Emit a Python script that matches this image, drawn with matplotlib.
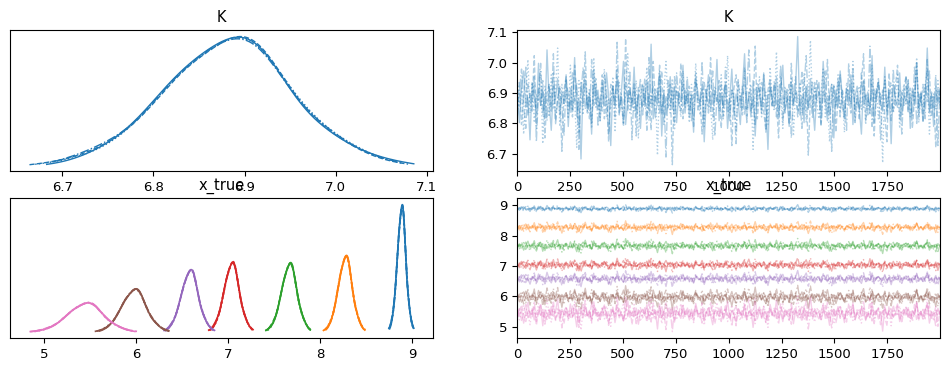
import numpy as np
import matplotlib
matplotlib.use("Agg")
import matplotlib.pyplot as plt

chain_a = [0.3, -1.2, 0.8, 1.5, -0.4, 0.1, -2.1, 0.9, 0.2, -0.7, 1.9, -0.3, 0.5, -1.0, 2.6, -0.1, -1.6, 0.7, 0.0, 1.1,
           -0.8, 0.4, -0.2, 1.3, -1.4, 0.6, -0.5, 2.2, -0.9, 0.1, -3.1, 0.8, 1.0, -0.6, 0.3, -1.8, 1.6, -0.2, 0.5, -1.1,
           0.9, -0.3, 1.4, 0.2, -2.4, 0.7, -0.1, 1.2, -0.7, 0.4, 2.0, -1.3, 0.0, 0.6, -0.4, 1.7, -0.9, 0.3, -1.5, 0.8,
           -0.2, 1.0, -0.6, 2.9, -1.0, 0.2, -0.3, 1.5, -1.9, 0.5, -0.8, 0.1, 1.2, -0.5, 0.7, -1.2, 0.4, -0.1, 1.8, -0.7,
           0.6, -0.9, 0.2, -1.7, 1.1, 0.4, -0.3, 0.8, -2.2, 0.1, 1.3, -0.6, 0.5, -0.1, 2.1, -1.1, 0.3, -0.4, 0.9, -1.5,
           0.0, 1.6, -0.8, 0.3, -0.2, -1.3, 0.7, 2.4, -0.5, 0.2, -0.9, 1.0, -1.9, 0.4, 0.6, -0.7, 1.4, -0.1, -2.6, 0.8,
           0.1, -0.4, 1.2, -1.0, 0.5, 1.8, -0.6, 0.0, -1.4, 0.9, -0.3, 0.7, 3.3, -0.8, 0.2, -1.2, 0.6, -0.5, 1.1, -0.2,
           -1.6, 0.4, 0.9, -0.7, 2.0, -0.1, -1.1, 0.3, 0.8, -2.0, 0.5, -0.4, 1.5, 0.1, -0.9, 0.6, -0.3, 1.3, -1.3, 0.2,
           0.7, -0.5, -1.8, 1.0, 0.0, 0.4, -0.7, 2.3, -1.2, 0.3, 0.9, -0.2, -0.6, 1.7, -1.0, 0.5, -2.3, 0.8, 0.1, -0.4,
           1.4, -0.8, 0.2, -0.1, 1.0, -1.5, 0.6, -0.3, 1.9, -0.9, 0.4, -1.1, 0.0, 2.7, -0.6, 0.3, -1.4, 0.7, -0.2, 0.5]
chain_b = [-0.5, 0.9, -1.3, 0.2, 1.7, -0.8, 0.4, -0.1, 2.3, -1.5, 0.6, -0.3, 1.0, -2.0, 0.3, 0.8, -0.6, 1.4, -1.1, 0.1,
           0.7, -2.7, 0.5, 1.2, -0.4, 0.0, -0.9, 1.8, 0.3, -1.7, 0.9, -0.2, 2.5, -0.7, 0.4, -1.2, 0.6, 1.1, -0.5, -0.1,
           1.3, -1.0, 0.2, -2.2, 0.8, 0.5, -0.3, 1.6, -0.8, 0.1, -1.4, 3.2, -0.6, 0.4, -0.2, 0.9, -1.9, 0.7, 0.0, -0.4,
           1.1, -0.9, 0.3, -1.6, 2.0, -0.1, 0.6, -0.7, 1.5, -1.3, 0.2, -0.5, 0.8, -3.4, 1.2, 0.4, -0.3, 1.9, -1.0, 0.5,
           -0.2, 0.7, -1.1, 0.3, 1.4, -0.6, 0.0, -1.8, 0.9, 0.2, -0.4, 2.2, -0.9, 0.5, -0.1, 1.0, -1.5, 0.4, 0.8, -0.7,
           0.1, -2.4, 0.6, 1.3, -0.3, 0.2, -0.8, 1.7, -1.2, 0.4, 0.0, -0.5, 2.8, -1.0, 0.3, 0.9, -0.6, -1.6, 0.5, 1.1,
           -0.4, 0.8, -0.1, -2.0, 1.2, 0.3, -0.7, 0.6, -1.3, 1.9, -0.2, 0.4, -0.9, 0.1, 1.5, -0.5, 0.7, -2.9, 0.2, 0.9,
           -0.6, 1.0, 0.3, -1.4, 0.5, -0.1, 2.1, -0.8, 0.0, 0.7, -1.7, 0.2, 1.3, -0.3, -1.0, 0.6, 0.4, -0.7, 1.6, -1.2,
           0.2, -0.5, 0.9, 2.4, -1.1, 0.1, -0.4, 0.8, -1.9, 0.3, 1.1, -0.2, 0.5, -0.8, -2.2, 1.4, 0.0, -0.6, 0.7, 1.8,
           -1.0, 0.4, -0.3, 1.2, -0.7, 0.6, -1.5, 0.1, 2.0, -0.4, 0.3, -1.2, 0.8, -0.1, 1.5, -0.9, 0.2, -2.5, 0.6, -0.3]
chain_c = [1.1, -0.4, 0.6, -1.8, 0.2, 2.1, -0.7, 0.9, -1.2, 0.3, -0.1, 1.5, -2.3, 0.7, 0.0, -0.9, 1.3, -0.5, 0.4, 2.7,
           -1.4, 0.8, -0.2, 0.5, -1.0, 1.8, -0.6, 0.1, -2.5, 1.0, 0.3, -0.8, 1.4, -0.3, 0.6, -1.5, 2.2, -0.4, 0.2, -1.1,
           0.7, 1.6, -0.9, 0.0, -0.5, 1.2, -1.7, 0.4, 0.9, -0.2, -1.3, 0.5, 2.4, -0.7, 0.1, -0.6, 1.0, -2.0, 0.3, 0.8,
           -0.4, 1.7, -1.1, 0.2, -0.3, 0.6, -2.9, 1.3, -0.8, 0.4, 2.0, -0.1, -0.7, 1.1, -1.6, 0.5, 0.0, -0.9, 1.5, -0.2,
           0.3, -1.2, 0.8, -0.5, 1.9, 0.1, -0.8, 0.6, -1.4, 0.2, 1.0, -0.3, -2.1, 0.7, 0.4, -0.6, 1.3, -1.0, 0.0, 2.3,
           -0.7, 0.5, -0.1, -1.6, 0.9, 0.2, -0.4, 1.5, -1.1, 0.3, 0.8, -2.6, 0.6, -0.2, 1.2, -0.9, 0.1, 0.4, -1.3, 1.7,
           0.0, -0.6, 2.5, -0.8, 0.3, -1.5, 0.7, 0.2, -0.3, 1.1, -1.9, 0.5, -0.1, 0.9, -0.7, 1.4, -1.2, 0.1, 3.1, -0.5,
           0.6, -0.2, -1.0, 0.4, 1.6, -0.9, 0.2, -2.2, 0.8, 0.0, -0.4, 1.3, -0.6, 0.5, -1.7, 0.9, 0.3, -0.1, 2.0, -1.1,
           0.4, 0.7, -0.5, 1.0, -1.3, 0.1, -0.8, 1.8, -0.2, 0.6, -1.0, 0.3, -3.3, 1.2, -0.4, 0.5, 0.9, -0.7, 0.0, 1.4,
           -1.5, 0.2, 0.8, -0.3, 1.1, -0.9, 0.5, -0.1, 2.2, -1.2, 0.4, -0.6, 0.7, 1.6, -1.8, 0.0, 0.3, -0.5, 1.0, -0.2]
chain_d = [-0.9, 0.4, 1.6, -0.3, -1.5, 0.8, 0.1, -0.6, 1.2, -2.2, 0.5, 1.9, -0.8, 0.2, -1.1, 0.7, -0.4, 2.4, -1.3, 0.0,
           0.6, -0.2, -1.9, 1.0, 0.3, -0.7, 1.4, -0.1, 0.9, -2.6, 0.4, 1.7, -0.5, 0.2, -1.0, 2.1, -0.3, 0.8, -1.4, 0.1,
           -0.6, 1.3, 0.5, -1.8, 0.0, 0.7, -0.9, 3.0, -0.4, 0.3, -1.2, 0.9, -0.1, 1.5, -2.1, 0.6, -0.5, 0.2, 1.1, -0.8,
           0.4, -1.6, 2.2, -0.2, 0.7, -1.0, 0.1, 1.8, -0.7, 0.3, -3.0, 1.0, -0.3, 0.5, -1.2, 1.4, 0.0, -0.6, 0.8, -0.4,
           1.2, -0.5, 0.3, -1.4, 0.9, 0.0, -0.2, 2.0, -1.0, 0.6, -0.7, 0.4, 1.5, -1.9, 0.1, -0.3, 0.8, -0.9, 1.7, -0.1,
           -1.1, 0.5, 0.2, -2.3, 1.1, -0.4, 0.7, -0.8, 0.3, 2.6, -0.6, 0.0, -1.3, 0.9, 0.4, -0.5, 1.3, -1.7, 0.2, 0.6,
           -0.3, 1.0, -0.9, 0.1, 1.8, -1.2, 0.5, -0.2, 0.8, -2.0, 0.3, 1.2, -0.6, 0.0, -1.5, 0.7, 2.3, -0.4, 0.2, -1.0,
           0.9, -0.1, 0.4, -1.3, 0.6, 1.5, -0.7, 0.2, -2.7, 0.8, -0.3, 1.1, -0.9, 0.5, 0.0, -1.6, 1.9, -0.2, 0.7, -0.5,
           0.1, -1.0, 1.4, -0.4, 0.3, -0.8, 2.8, -1.4, 0.6, -0.1, 0.9, -2.1, 0.2, 1.0, -0.6, 0.4, -1.1, 1.6, -0.3, 0.0,
           0.5, -1.8, 0.7, 1.2, -0.5, 0.1, -0.9, 1.7, -1.3, 0.3, -0.2, 0.8, -1.0, 2.1, -0.7, 0.4, -0.4, 1.3, -2.4, 0.6]
chains_z = np.array([chain_a, chain_b, chain_c, chain_d])

K_mean, K_sd = 6.878, 0.063
x_true_mean = [8.882, 8.268, 7.66, 7.035, 6.58, 5.97, 5.44]
x_true_sd = [0.041, 0.068, 0.075, 0.074, 0.083, 0.12, 0.175]

n_draws = 2000
linestyles = ["-", "--", ":", "-."]


def kde(x):
    h = 1.06 * x.std() * len(x) ** -0.2
    grid = np.linspace(x.min(), x.max(), 300)
    d = np.exp(-0.5 * ((grid[:, None] - x[None, :]) / h) ** 2).sum(1)
    return grid, d / (len(x) * h * np.sqrt(2 * np.pi))


fig = plt.figure(figsize=(9.5, 3.72), dpi=100)
ax_kk = fig.add_axes([0.0108, 0.540, 0.445, 0.379])
ax_kt = fig.add_axes([0.5445, 0.540, 0.445, 0.379])
ax_xk = fig.add_axes([0.0108, 0.0914, 0.445, 0.3755])
ax_xt = fig.add_axes([0.5445, 0.0914, 0.445, 0.3755])

draw_idx = np.linspace(0, n_draws - 1, chains_z.shape[1])

K = K_mean + K_sd * chains_z
for c in range(4):
    g, d = kde(K[c])
    ax_kk.plot(g, d, color="C0", ls=linestyles[c], lw=1.0)
    ax_kt.plot(draw_idx, K[c], color="C0", ls=linestyles[c], lw=1.0, alpha=0.35)

for i, (m, s) in enumerate(zip(x_true_mean, x_true_sd)):
    order = [(i + c) % 4 for c in range(4)]
    vals = m + s * chains_z[order]
    for c in range(4):
        g, d = kde(vals[c])
        ax_xk.plot(g, d, color=f"C{i}", ls=linestyles[c], lw=1.2)
        ax_xt.plot(draw_idx, vals[c], color=f"C{i}", ls=linestyles[c], lw=1.0, alpha=0.35)

for ax, title in [(ax_kk, "K"), (ax_kt, "K"), (ax_xk, "x_true"), (ax_xt, "x_true")]:
    ax.set_title(title, fontsize=10.5)
    ax.tick_params(labelsize=9.5)

for ax in (ax_kk, ax_xk):
    ax.set_yticks([])

for ax in (ax_kt, ax_xt):
    ax.set_xlim(0, n_draws - 1)
    ax.set_xticks([0, 250, 500, 750, 1000, 1250, 1500, 1750])

fig.savefig("out.png", dpi=100)
